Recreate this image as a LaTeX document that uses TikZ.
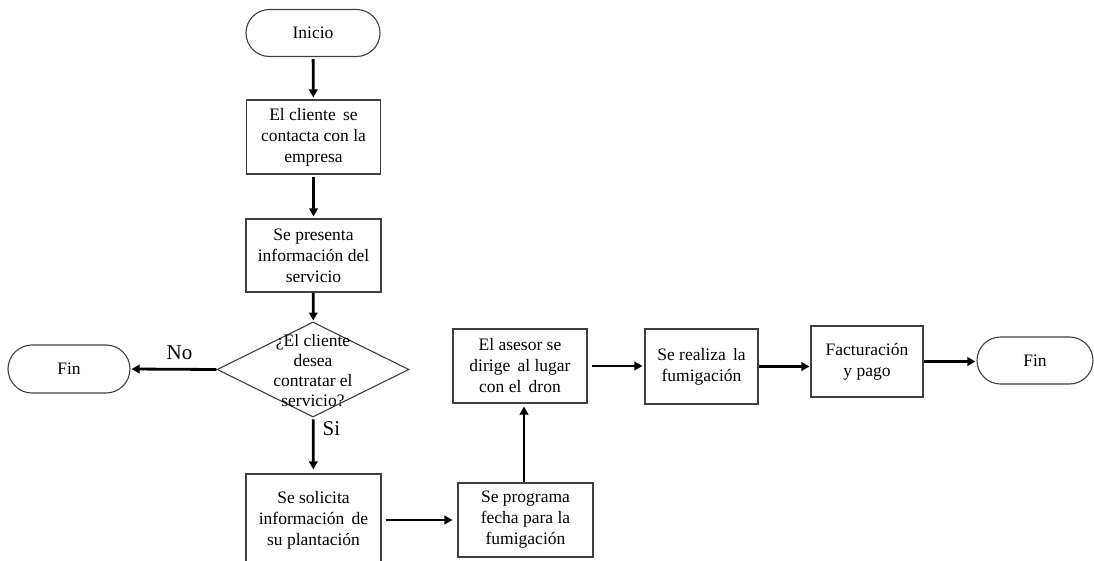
\documentclass[tikz,border=0pt]{standalone}
\usepackage{fontspec}
\setmainfont{Liberation Serif}
\usetikzlibrary{arrows.meta,shapes.geometric,shapes.misc}
\definecolor{edge}{HTML}{404040}
\begin{document}
\begin{tikzpicture}[x=1pt,y=-1pt,
  txt/.style={font=\fontsize{17.5}{21}\selectfont},
  box/.style={txt,draw=edge,line width=1.1pt,rectangle,inner sep=0pt,align=center},
  term/.style={txt,draw=edge,line width=1.1pt,rounded rectangle,inner sep=0pt},
  dia/.style={draw=edge,line width=1.1pt,diamond,inner sep=0pt},
  lbl/.style={font=\fontsize{17.5}{20}\selectfont,align=center,inner sep=0pt},
  big/.style={font=\fontsize{21}{24}\selectfont,inner sep=0pt},
  conn/.style={line width=2.8pt,-{Triangle[length=8pt,width=8.5pt]},shorten >=2pt,shorten <=2pt}]
\clip (0,0) rectangle (1094,561);
\fill[white] (0,0) rectangle (1094,561);
\node[term,minimum width=134pt,minimum height=47pt] (inicio) at (313,33) {Inicio};
\node[box,minimum width=134pt,minimum height=74pt] (b1) at (313.5,137) {El cliente\, se\\contacta con la\\empresa};
\node[box,minimum width=135pt,minimum height=73pt] (b2) at (313.5,255.5) {Se presenta\\información del\\servicio};
\node[dia,minimum width=192pt,minimum height=95pt] (d) at (313,369.5) {};
\node[lbl] (dt) at (313,371) {¿El cliente\\desea\\contratar el\\servicio?};
\node[box,minimum width=135pt,minimum height=92pt] (b3) at (313.5,520) {Se solicita\\información\, de\\su plantación};
\node[box,minimum width=135pt,minimum height=74pt] (b4) at (525.5,520) {Se programa\\fecha para la\\fumigación};
\node[box,minimum width=134pt,minimum height=74pt] (b5) at (520,366) {El asesor se\\dirige\, al lugar\\con el\, dron};
\node[box,minimum width=113pt,minimum height=75pt] (b6) at (701.5,366.5) {Se realiza\, la\\fumigación};
\node[box,minimum width=112pt,minimum height=71pt] (b7) at (867,361.5) {Facturación\\y pago};
\node[term,minimum width=116pt,minimum height=47pt] (fin2) at (1035,360.5) {Fin};
\node[term,minimum width=122pt,minimum height=48pt] (fin1) at (69,369) {Fin};
\draw[conn] (inicio) -- (b1);
\draw[conn] (b1) -- (b2);
\draw[conn,shorten <=0pt,shorten >=1pt] (b2) -- (d);
\draw[conn,shorten >=4pt] (d) -- (b3) node[big,pos=0.2,anchor=west,xshift=8pt] (si) {Si};
\draw[conn,shorten <=0pt,shorten >=1pt] (d.west) -- (fin1.east) node[big,midway,above=8pt,xshift=6pt] (no) {No};
\draw[conn,shorten <=4pt,shorten >=5pt] (b3.east |- b4.center) -- (b4.west);
\draw[conn,shorten >=3pt,shorten <=0pt] ([xshift=-1.5pt]b4.north) -- ([xshift=-1.5pt]b4.north |- b5.south);
\draw[conn,shorten <=4pt,shorten >=2pt] (b5.east) -- (b5.east -| b6.west);
\draw[conn,shorten <=0pt,shorten >=1pt] (b6.east) -- (b6.east -| b7.west);
\draw[conn,shorten <=0pt,shorten >=1pt] (b7.east) -- (b7.east -| fin2.west);
\end{tikzpicture}
\end{document}
